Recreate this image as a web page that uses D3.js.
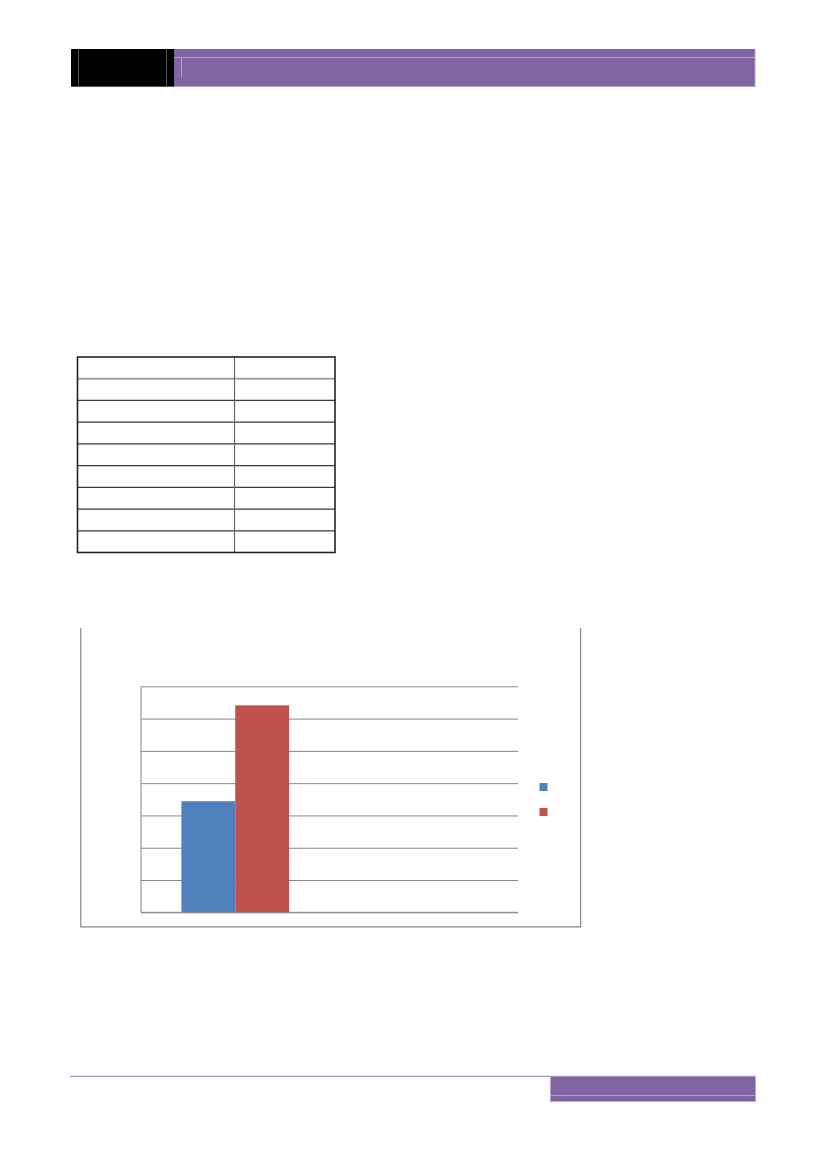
<!DOCTYPE html>
<html lang="en">
<head>
  <meta charset="UTF-8" />
  <title>Bar chart page</title>
  <style>
    body {
      margin: 0;
      background: white;
      font-family: "Liberation Sans", "DejaVu Sans", sans-serif;
    }
    svg {
      display: block;
    }
  </style>
</head>
<body>
  <svg width="827" height="1169"></svg>

  <script src="https://d3js.org/d3.v7.min.js"></script>
  <script>
    // chart data (labels are blank in the source page)
    const categories = ["cat1", "cat2"];
    const seriesKeys = ["series1", "series2"];
    const series1 = [34.4, null];
    const series2 = [64.1, null];
    const yTicks = [0, 10, 20, 30, 40, 50, 60, 70];
    const tableRows = ["r1", "r2", "r3", "r4", "r5", "r6", "r7", "r8", "r9"];
    const tableCols = ["c1", "c2"];

    const purple = "#8064a2";
    const lilac = "#b3a2c7";
    const colors = d3.scaleOrdinal().domain(seriesKeys).range(["#4f81bd", "#c0504d"]);

    const svg = d3.select("svg");

    // ---- header band ----
    const header = svg.append("g");
    header.append("rect")
      .attr("x", 71).attr("y", 49).attr("width", 103).attr("height", 37.5)
      .attr("fill", "#000");
    header.append("line")
      .attr("x1", 78.5).attr("x2", 78.5).attr("y1", 49).attr("y2", 86)
      .attr("stroke", "#555").attr("stroke-width", 1);
    header.append("line")
      .attr("x1", 166.5).attr("x2", 166.5).attr("y1", 49).attr("y2", 86)
      .attr("stroke", "#555").attr("stroke-width", 1);
    header.append("line")
      .attr("x1", 71).attr("x2", 174).attr("y1", 86.5).attr("y2", 86.5)
      .attr("stroke", "#555").attr("stroke-width", 1);
    header.append("rect")
      .attr("x", 174).attr("y", 49).attr("width", 581).attr("height", 37.5)
      .attr("fill", purple);
    header.append("line")
      .attr("x1", 174).attr("x2", 755).attr("y1", 57.5).attr("y2", 57.5)
      .attr("stroke", lilac).attr("stroke-width", 1);
    header.append("line")
      .attr("x1", 181.5).attr("x2", 181.5).attr("y1", 58).attr("y2", 77)
      .attr("stroke", lilac).attr("stroke-width", 1);
    header.append("line")
      .attr("x1", 174).attr("x2", 755.5).attr("y1", 86.5).attr("y2", 86.5)
      .attr("stroke", lilac).attr("stroke-width", 1);
    header.append("line")
      .attr("x1", 755).attr("x2", 755).attr("y1", 49).attr("y2", 87)
      .attr("stroke", lilac).attr("stroke-width", 1);

    // ---- table ----
    const tableX = d3.scaleOrdinal().domain(tableCols).range([77.5, 234.5]);
    const colRight = 335;
    const rowY = d3.scaleBand().domain(tableRows).range([357, 552.5]);

    const table = svg.append("g");
    table.selectAll("line.row")
      .data(tableRows.slice(1))
      .join("line")
        .attr("class", "row")
        .attr("x1", 77.5).attr("x2", colRight)
        .attr("y1", d => rowY(d)).attr("y2", d => rowY(d))
        .attr("stroke", (d, i) => i === 0 ? "#a0a0a0" : "#3a3a3a")
        .attr("stroke-width", (d, i) => i === 0 ? 2 : 1.2);
    table.append("line")
      .attr("x1", tableX("c2")).attr("x2", tableX("c2"))
      .attr("y1", 357).attr("y2", 552.5)
      .attr("stroke", "#666").attr("stroke-width", 1.2);
    table.append("rect")
      .attr("x", 77.5).attr("y", 357)
      .attr("width", colRight - 77.5).attr("height", 552.5 - 357)
      .attr("fill", "none").attr("stroke", "#222").attr("stroke-width", 1.6);

    // ---- chart frame ----
    svg.append("path")
      .attr("d", "M80.8,628 V926.8 H580.6 V628")
      .attr("fill", "none")
      .attr("stroke", "#868686")
      .attr("stroke-width", 1.2);

    const plot = { left: 141, right: 518, top: 686.3, bottom: 912.3 };

    const y = d3.scaleLinear()
      .domain([0, d3.max(yTicks)])
      .range([plot.bottom, plot.top]);

    const x0 = d3.scaleBand()
      .domain(categories)
      .range([plot.left, plot.right])
      .padding(0);

    // Excel-style gap width 150%: band = 2 bars + 1.5 bar
    const barW = x0.bandwidth() / 3.5;
    const x1 = d3.scaleBand()
      .domain(seriesKeys)
      .range([0.75 * barW, 2.75 * barW]);

    // gridlines
    svg.append("g")
      .attr("transform", `translate(${plot.left},0)`)
      .call(d3.axisLeft(y)
        .tickValues(yTicks)
        .tickSizeInner(-(plot.right - plot.left))
        .tickSizeOuter(0)
        .tickFormat(""))
      .call(g => g.select(".domain").remove())
      .call(g => g.selectAll(".tick line")
        .attr("stroke", "#868686")
        .attr("stroke-width", 1));

    // value axis line
    svg.append("line")
      .attr("x1", plot.left).attr("x2", plot.left)
      .attr("y1", plot.top).attr("y2", plot.bottom)
      .attr("stroke", "#868686").attr("stroke-width", 1);

    const rows = categories.map((c, i) => ({
      category: c,
      series1: series1[i],
      series2: series2[i]
    }));

    svg.append("g")
      .selectAll("g")
      .data(rows)
      .join("g")
        .attr("transform", d => `translate(${x0(d.category)},0)`)
      .selectAll("rect")
      .data(d => seriesKeys.map(k => ({ key: k, value: d[k] })).filter(v => v.value != null))
      .join("rect")
        .attr("x", d => x1(d.key))
        .attr("width", x1.bandwidth())
        .attr("y", d => y(d.value))
        .attr("height", d => y(0) - y(d.value))
        .attr("fill", d => colors(d.key));

    // bottom axis line on top of bars
    svg.append("line")
      .attr("x1", plot.left).attr("x2", plot.right)
      .attr("y1", plot.bottom).attr("y2", plot.bottom)
      .attr("stroke", "#868686").attr("stroke-width", 1);

    // legend swatches
    const legendY = d3.scalePoint().domain(seriesKeys).range([787, 812]);
    svg.append("g")
      .selectAll("rect")
      .data(seriesKeys)
      .join("rect")
        .attr("x", 539.5)
        .attr("y", d => legendY(d) - 4)
        .attr("width", 8)
        .attr("height", 8)
        .attr("fill", d => colors(d));

    // ---- footer ----
    const footer = svg.append("g");
    footer.append("line")
      .attr("x1", 70).attr("x2", 755).attr("y1", 1076.3).attr("y2", 1076.3)
      .attr("stroke", "#a795c4").attr("stroke-width", 1.3);
    footer.append("rect")
      .attr("x", 550.5).attr("y", 1076.5).attr("width", 205).attr("height", 25)
      .attr("fill", purple)
      .attr("stroke", lilac).attr("stroke-width", 0.8);
    footer.append("line")
      .attr("x1", 550.5).attr("x2", 755.5).attr("y1", 1095.5).attr("y2", 1095.5)
      .attr("stroke", lilac).attr("stroke-width", 1);
  </script>
</body>
</html>
